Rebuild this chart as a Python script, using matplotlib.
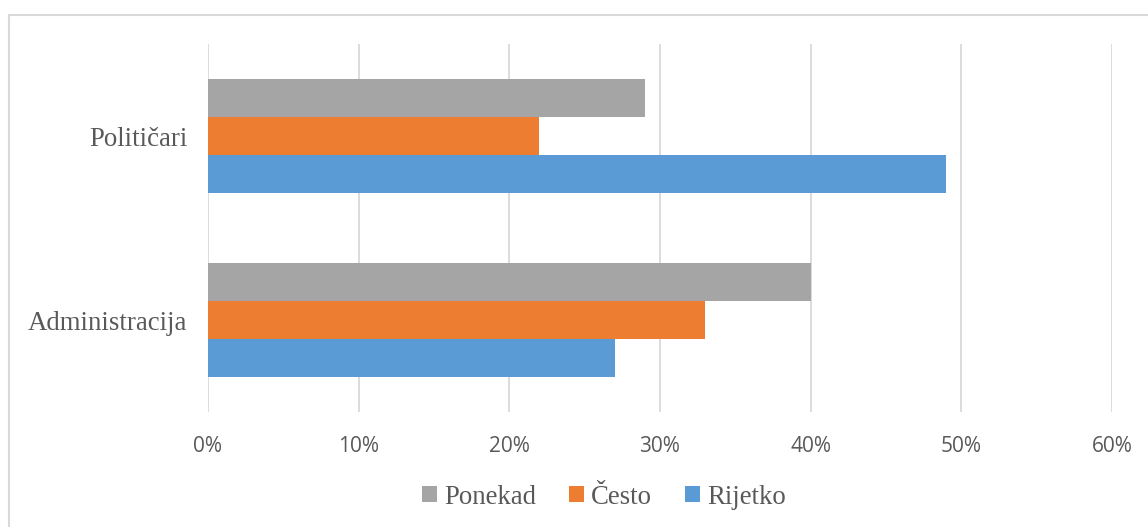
import numpy as np
import matplotlib
matplotlib.use("Agg")
import matplotlib.pyplot as plt
from matplotlib.patches import Rectangle

categories = ["Administracija", "Političari"]
series = ["Rijetko", "Često", "Ponekad"]
rijetko = [27, 49]
cesto = [33, 22]
ponekad = [40, 29]
colors = {"Rijetko": "#5B9BD5", "Često": "#ED7D31", "Ponekad": "#A5A5A5"}
xticks = [0, 10, 20, 30, 40, 50, 60]

text_color = "#595959"
fig = plt.figure(figsize=(11.48, 5.27), dpi=100)
fig.patches.append(Rectangle((9 / 1148, -0.1), 1.2, 1 - 15 / 527 + 0.1,
                             transform=fig.transFigure, fill=False,
                             edgecolor="#d9d9d9", linewidth=1.5))
ax = fig.add_axes([208 / 1148, 1 - 412 / 527, 904 / 1148, 368 / 527])

y = np.arange(len(categories))
h = 0.207
values = {"Rijetko": rijetko, "Često": cesto, "Ponekad": ponekad}
bars = {}
for i, name in enumerate(series):
    bars[name] = ax.barh(y + (i - 1) * h, values[name], height=h,
                         color=colors[name], zorder=3, label=name)

ax.set_xlim(0, 60)
ax.set_ylim(-0.5, 1.5)
ax.set_xticks(xticks)
ax.set_xticklabels([f"{t}%" for t in xticks], fontfamily="Open Sans",
                   fontsize=15, color=text_color)
ax.set_yticks(y)
ax.set_yticklabels(categories, fontfamily="Liberation Serif", fontsize=19.3,
                   color=text_color)
ax.tick_params(axis="both", length=0)
ax.tick_params(axis="x", pad=17)
ax.tick_params(axis="y", pad=15)
ax.grid(axis="x", color="#d9d9d9", linewidth=1.3, zorder=0)
for s in ax.spines.values():
    s.set_visible(False)

handles = [bars["Ponekad"], bars["Često"], bars["Rijetko"]]
fig.legend(handles, ["Ponekad", "Često", "Rijetko"], loc="center",
           bbox_to_anchor=(604 / 1148, 1 - 497 / 527), ncol=3, frameon=False,
           prop={"family": "Liberation Serif", "size": 19.3},
           labelcolor=text_color, handlelength=0.55, handleheight=0.55,
           handletextpad=0.25, columnspacing=1.25)

fig.savefig("out.png", dpi=100)
